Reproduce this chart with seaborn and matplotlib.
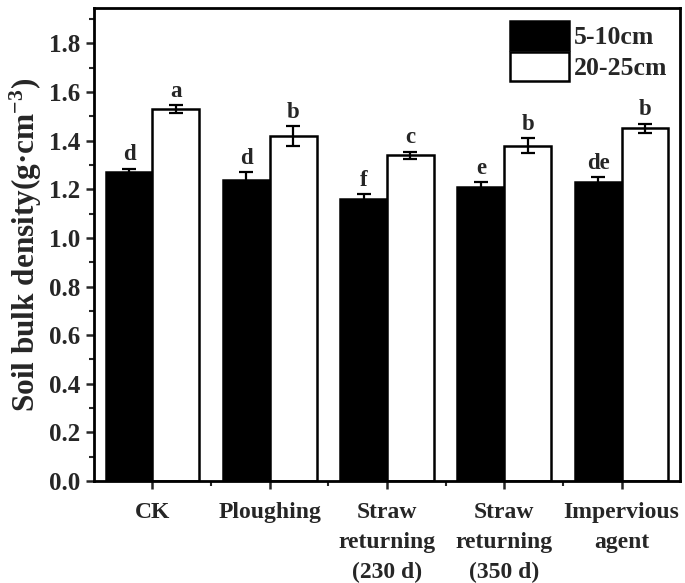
import numpy as np
import pandas as pd
import matplotlib
matplotlib.use("Agg")
import matplotlib.pyplot as plt
from matplotlib.ticker import MultipleLocator, FormatStrFormatter
import seaborn as sns

categories = ["CK", "Ploughing", "Straw\nreturning\n(230 d)", "Straw\nreturning\n(350 d)", "Impervious\nagent"]
depths = ["5-10cm", "20-25cm"]
vals_5_10 = [1.27, 1.24, 1.16, 1.21, 1.23]
vals_20_25 = [1.53, 1.42, 1.34, 1.38, 1.45]
err_5_10 = [0.015, 0.03, 0.02, 0.02, 0.02]
err_20_25 = [0.015, 0.04, 0.015, 0.03, 0.02]
letters_5_10 = ["d", "d", "f", "e", "de"]
letters_20_25 = ["a", "b", "c", "b", "b"]

df = pd.DataFrame({
    "cat": categories * 2,
    "depth": [depths[0]] * 5 + [depths[1]] * 5,
    "val": vals_5_10 + vals_20_25,
})

sns.set_theme(style="ticks")
plt.rcParams["font.family"] = ["Liberation Serif", "DejaVu Serif"]
plt.rcParams["font.weight"] = "bold"
plt.rcParams["mathtext.fontset"] = "custom"
plt.rcParams["mathtext.rm"] = "Liberation Serif:bold"
plt.rcParams["mathtext.bf"] = "Liberation Serif:bold"
plt.rcParams["mathtext.default"] = "bf"

fig = plt.figure(figsize=(6.85, 5.83), dpi=100)
ax = fig.add_axes([0.137, 0.175, 0.856, 0.811])

sns.barplot(data=df, x="cat", y="val", hue="depth", order=categories, hue_order=depths,
            palette=["black", "white"], edgecolor="black", linewidth=1.8,
            errorbar=None, width=0.8, ax=ax)

errs = [err_5_10, err_20_25]
vals = [vals_5_10, vals_20_25]
lets = [letters_5_10, letters_20_25]
bar_containers = list(ax.containers)
for h, cont in enumerate(bar_containers):
    for i, bar in enumerate(cont.patches):
        xc = bar.get_x() + bar.get_width() / 2
        ax.errorbar(xc, vals[h][i], yerr=errs[h][i], fmt="none", ecolor="black",
                    elinewidth=1.6, capsize=5, capthick=1.6, zorder=5)
        ax.text(xc, vals[h][i] + errs[h][i] + 0.014, lets[h][i], ha="center", va="bottom",
                fontsize=16.5, fontweight="bold")

ax.set_xlim(-0.5, 4.5)
ax.set_ylim(0, 1.945)
ax.yaxis.set_major_locator(MultipleLocator(0.2))
ax.yaxis.set_minor_locator(MultipleLocator(0.1))
ax.set_xticks(range(5))
ax.set_xticks([0.5, 1.5, 2.5, 3.5], minor=True)
ax.yaxis.set_major_formatter(FormatStrFormatter("%.1f"))
ax.tick_params(axis="both", which="major", direction="out", length=6, width=1.8)
ax.tick_params(axis="y", which="major", labelsize=18, pad=4)
ax.tick_params(axis="x", which="major", labelsize=17, pad=9)
ax.tick_params(axis="both", which="minor", direction="out", length=3.5, width=1.5)
for lab in ax.get_xticklabels():
    lab.set_fontweight("bold")
    lab.set_linespacing(1.55)
for lab in ax.get_yticklabels():
    lab.set_fontweight("bold")
for s in ax.spines.values():
    s.set_visible(True)
    s.set_linewidth(2)
    s.set_color("black")

ax.set_xlabel("")
ax.set_ylabel("Soil bulk density(g·cm$^{-3}$)", fontsize=22.5, fontweight="bold", labelpad=3)

leg = ax.legend(loc="upper right", frameon=False, fontsize=18.5, handlelength=2.3, handleheight=1.35,
                labelspacing=0.1, handletextpad=0.2, borderaxespad=0.1)
for t in leg.get_texts():
    t.set_fontweight("bold")

fig.savefig("out.png", dpi=100)
